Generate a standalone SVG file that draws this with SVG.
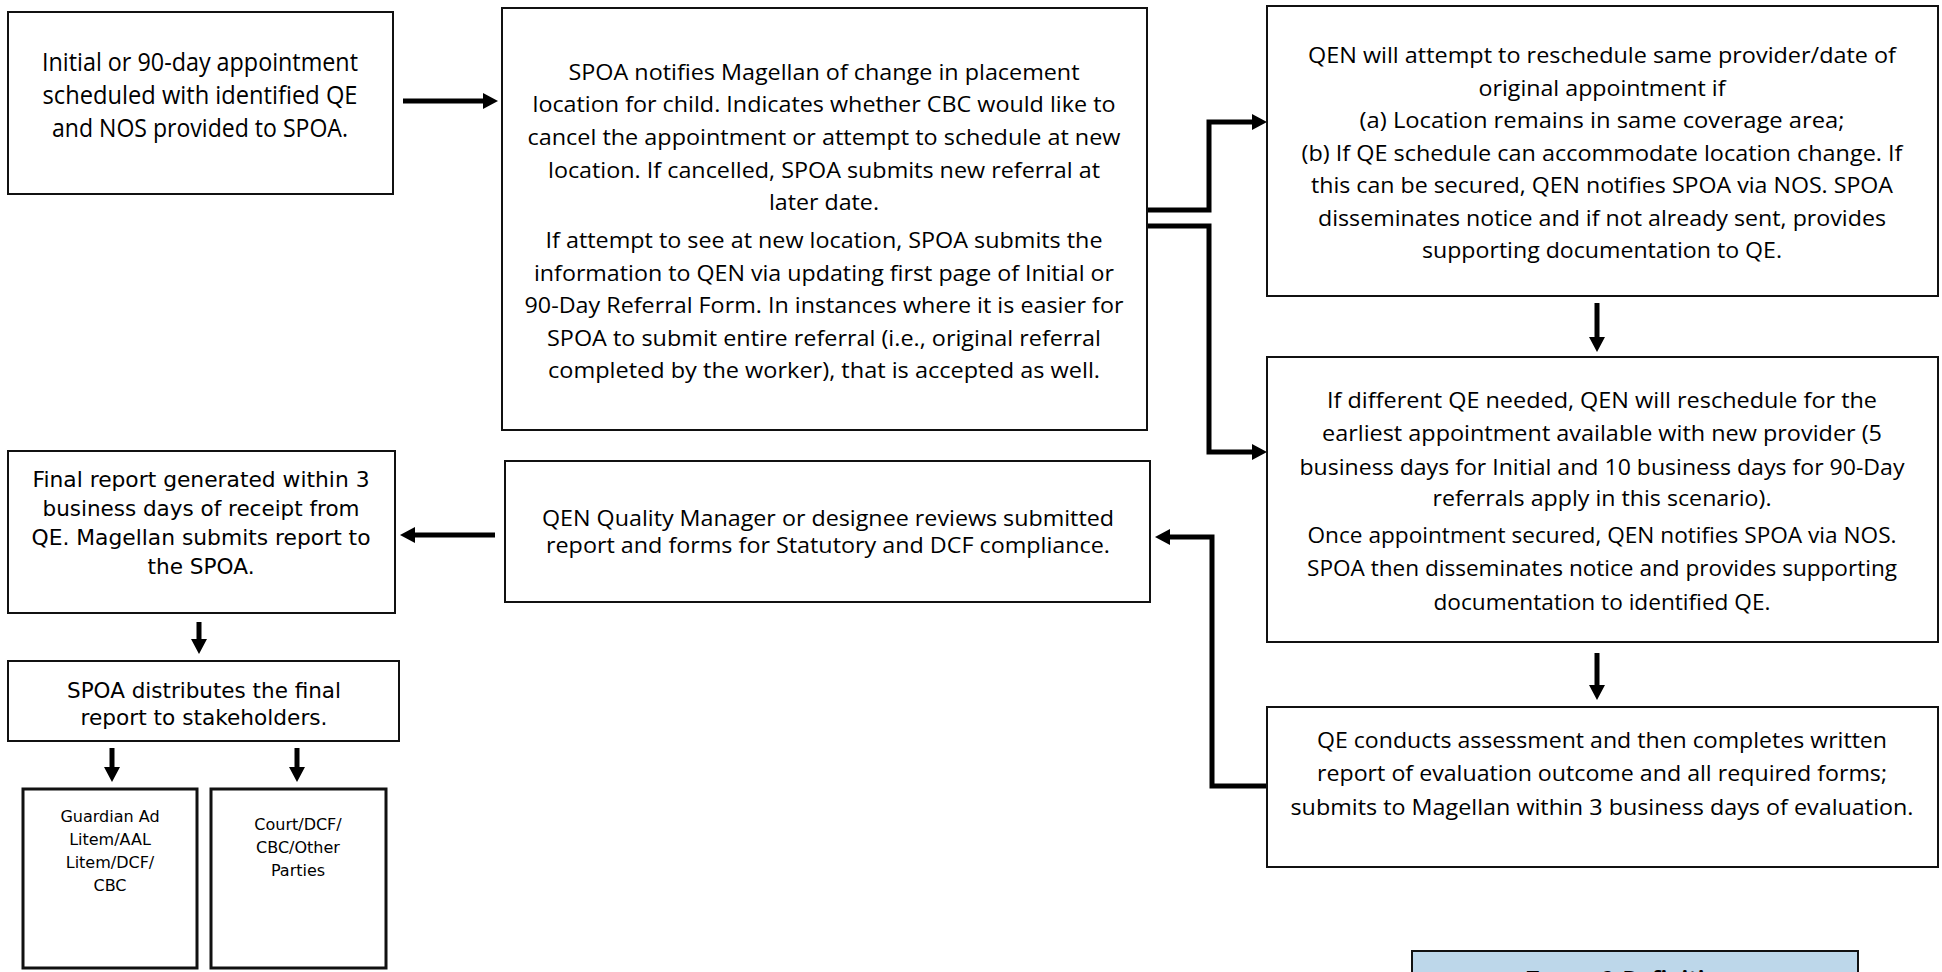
<svg xmlns="http://www.w3.org/2000/svg" width="1942" height="972" viewBox="0 0 1942 972">
<style>
.box{fill:#fff;stroke:#111;stroke-width:2}
.thick{stroke-width:3}
.t{font-family:"Open Sans","Liberation Sans",sans-serif;font-size:21px;text-anchor:middle;fill:#000}
.t1{font-size:25px}
.v{font-family:"DejaVu Sans","Liberation Sans",sans-serif;font-size:21px;text-anchor:middle;fill:#000}
.v2{font-size:16px}
.conn{fill:none;stroke:#000;stroke-width:5;stroke-linejoin:miter}
.terms{fill:#bdd7ea;stroke:#111;stroke-width:2}
.tb{font-family:"Open Sans","Liberation Sans",sans-serif;font-size:22px;font-weight:bold;text-anchor:middle;fill:#000}
</style>
<defs>
<marker id="ah" markerUnits="userSpaceOnUse" markerWidth="16" markerHeight="17" refX="3" refY="8" orient="auto">
<path d="M0,0 L15,8 L0,16 Z" fill="#000"/>
</marker>
</defs>
<rect width="1942" height="972" fill="#fff"/>

<g id="connectors">
<path class="conn" d="M403,101 H486" marker-end="url(#ah)"/>
<path class="conn" d="M1147,210 H1209 V122 H1255" marker-end="url(#ah)"/>
<path class="conn" d="M1147,226 H1209 V452 H1255" marker-end="url(#ah)"/>
<path class="conn" d="M1597,303 V340" marker-end="url(#ah)"/>
<path class="conn" d="M1597,653 V688" marker-end="url(#ah)"/>
<path class="conn" d="M1267,786 H1212 V537 H1167" marker-end="url(#ah)"/>
<path class="conn" d="M495,535 H412" marker-end="url(#ah)"/>
<path class="conn" d="M199,622 V642" marker-end="url(#ah)"/>
<path class="conn" d="M112,748 V770" marker-end="url(#ah)"/>
<path class="conn" d="M297,748 V770" marker-end="url(#ah)"/>
</g>

<g id="n1">
<rect class="box" x="8" y="12" width="385" height="182"/>
<text class="t t1" x="200" y="71" textLength="316" lengthAdjust="spacingAndGlyphs">Initial or 90-day appointment</text>
<text class="t t1" x="200" y="104" textLength="315" lengthAdjust="spacingAndGlyphs">scheduled with identified QE</text>
<text class="t t1" x="200" y="137" textLength="296" lengthAdjust="spacingAndGlyphs">and NOS provided to SPOA.</text>
</g>

<g id="n2">
<rect class="box" x="502" y="8" width="645" height="422"/>
<text class="t" x="824" y="80" textLength="511" lengthAdjust="spacingAndGlyphs">SPOA notifies Magellan of change in placement</text>
<text class="t" x="824" y="112" textLength="583" lengthAdjust="spacingAndGlyphs">location for child. Indicates whether CBC would like to</text>
<text class="t" x="824" y="145" textLength="593" lengthAdjust="spacingAndGlyphs">cancel the appointment or attempt to schedule at new</text>
<text class="t" x="824" y="178" textLength="552" lengthAdjust="spacingAndGlyphs">location. If cancelled, SPOA submits new referral at</text>
<text class="t" x="824" y="210" textLength="110" lengthAdjust="spacingAndGlyphs">later date.</text>
<text class="t" x="824" y="248" textLength="557" lengthAdjust="spacingAndGlyphs">If attempt to see at new location, SPOA submits the</text>
<text class="t" x="824" y="281" textLength="580" lengthAdjust="spacingAndGlyphs">information to QEN via updating first page of Initial or</text>
<text class="t" x="824" y="313" textLength="599" lengthAdjust="spacingAndGlyphs">90-Day Referral Form. In instances where it is easier for</text>
<text class="t" x="824" y="346" textLength="554" lengthAdjust="spacingAndGlyphs">SPOA to submit entire referral (i.e., original referral</text>
<text class="t" x="824" y="378" textLength="552" lengthAdjust="spacingAndGlyphs">completed by the worker), that is accepted as well.</text>
</g>

<g id="n3">
<rect class="box" x="1267" y="6" width="671" height="290"/>
<text class="t" x="1602" y="63" textLength="588" lengthAdjust="spacingAndGlyphs">QEN will attempt to reschedule same provider/date of</text>
<text class="t" x="1602" y="96" textLength="247" lengthAdjust="spacingAndGlyphs">original appointment if</text>
<text class="t" x="1602" y="128" textLength="485" lengthAdjust="spacingAndGlyphs">(a) Location remains in same coverage area;</text>
<text class="t" x="1602" y="161" textLength="601" lengthAdjust="spacingAndGlyphs">(b) If QE schedule can accommodate location change. If</text>
<text class="t" x="1602" y="193" textLength="582" lengthAdjust="spacingAndGlyphs">this can be secured, QEN notifies SPOA via NOS. SPOA</text>
<text class="t" x="1602" y="226" textLength="568" lengthAdjust="spacingAndGlyphs">disseminates notice and if not already sent, provides</text>
<text class="t" x="1602" y="258" textLength="360" lengthAdjust="spacingAndGlyphs">supporting documentation to QE.</text>
</g>

<g id="n4">
<rect class="box" x="1267" y="357" width="671" height="285"/>
<text class="t" x="1602" y="408" textLength="550" lengthAdjust="spacingAndGlyphs">If different QE needed, QEN will reschedule for the</text>
<text class="t" x="1602" y="441" textLength="560" lengthAdjust="spacingAndGlyphs">earliest appointment available with new provider (5</text>
<text class="t" x="1602" y="475" textLength="605" lengthAdjust="spacingAndGlyphs">business days for Initial and 10 business days for 90-Day</text>
<text class="t" x="1602" y="506" textLength="339" lengthAdjust="spacingAndGlyphs">referrals apply in this scenario).</text>
<text class="t" x="1602" y="543" textLength="589" lengthAdjust="spacingAndGlyphs">Once appointment secured, QEN notifies SPOA via NOS.</text>
<text class="t" x="1602" y="576" textLength="590" lengthAdjust="spacingAndGlyphs">SPOA then disseminates notice and provides supporting</text>
<text class="t" x="1602" y="610" textLength="337" lengthAdjust="spacingAndGlyphs">documentation to identified QE.</text>
</g>

<g id="n5">
<rect class="box" x="1267" y="707" width="671" height="160"/>
<text class="t" x="1602" y="748" textLength="570" lengthAdjust="spacingAndGlyphs">QE conducts assessment and then completes written</text>
<text class="t" x="1602" y="781" textLength="570" lengthAdjust="spacingAndGlyphs">report of evaluation outcome and all required forms;</text>
<text class="t" x="1602" y="815" textLength="623" lengthAdjust="spacingAndGlyphs">submits to Magellan within 3 business days of evaluation.</text>
</g>

<g id="n6">
<rect class="box" x="505" y="461" width="645" height="141"/>
<text class="t" x="828" y="526" textLength="572" lengthAdjust="spacingAndGlyphs">QEN Quality Manager or designee reviews submitted</text>
<text class="t" x="828" y="553" textLength="564" lengthAdjust="spacingAndGlyphs">report and forms for Statutory and DCF compliance.</text>
</g>

<g id="n7">
<rect class="box" x="8" y="451" width="387" height="162"/>
<text class="v" x="201" y="487" textLength="337" lengthAdjust="spacingAndGlyphs">Final report generated within 3</text>
<text class="v" x="201" y="516" textLength="317" lengthAdjust="spacingAndGlyphs">business days of receipt from</text>
<text class="v" x="201" y="545" textLength="339" lengthAdjust="spacingAndGlyphs">QE. Magellan submits report to</text>
<text class="v" x="201" y="574" textLength="107" lengthAdjust="spacingAndGlyphs">the SPOA.</text>
</g>

<g id="n8">
<rect class="box" x="8" y="661" width="391" height="80"/>
<text class="v" x="204" y="698" textLength="274" lengthAdjust="spacingAndGlyphs">SPOA distributes the final</text>
<text class="v" x="204" y="725" textLength="247" lengthAdjust="spacingAndGlyphs">report to stakeholders.</text>
</g>

<g id="n9">
<rect class="box thick" x="23" y="789" width="174" height="179"/>
<text class="v v2" x="110" y="822">Guardian Ad</text>
<text class="v v2" x="110" y="845">Litem/AAL</text>
<text class="v v2" x="110" y="868">Litem/DCF/</text>
<text class="v v2" x="110" y="891">CBC</text>
</g>

<g id="n10">
<rect class="box thick" x="211" y="789" width="175" height="179"/>
<text class="v v2" x="298" y="830">Court/DCF/</text>
<text class="v v2" x="298" y="853">CBC/Other</text>
<text class="v v2" x="298" y="876">Parties</text>
</g>

<g id="terms">
<rect class="terms" x="1412" y="951" width="446" height="40"/>
<text class="tb" x="1635" y="986">Terms &amp; Definitions</text>
</g>
</svg>
